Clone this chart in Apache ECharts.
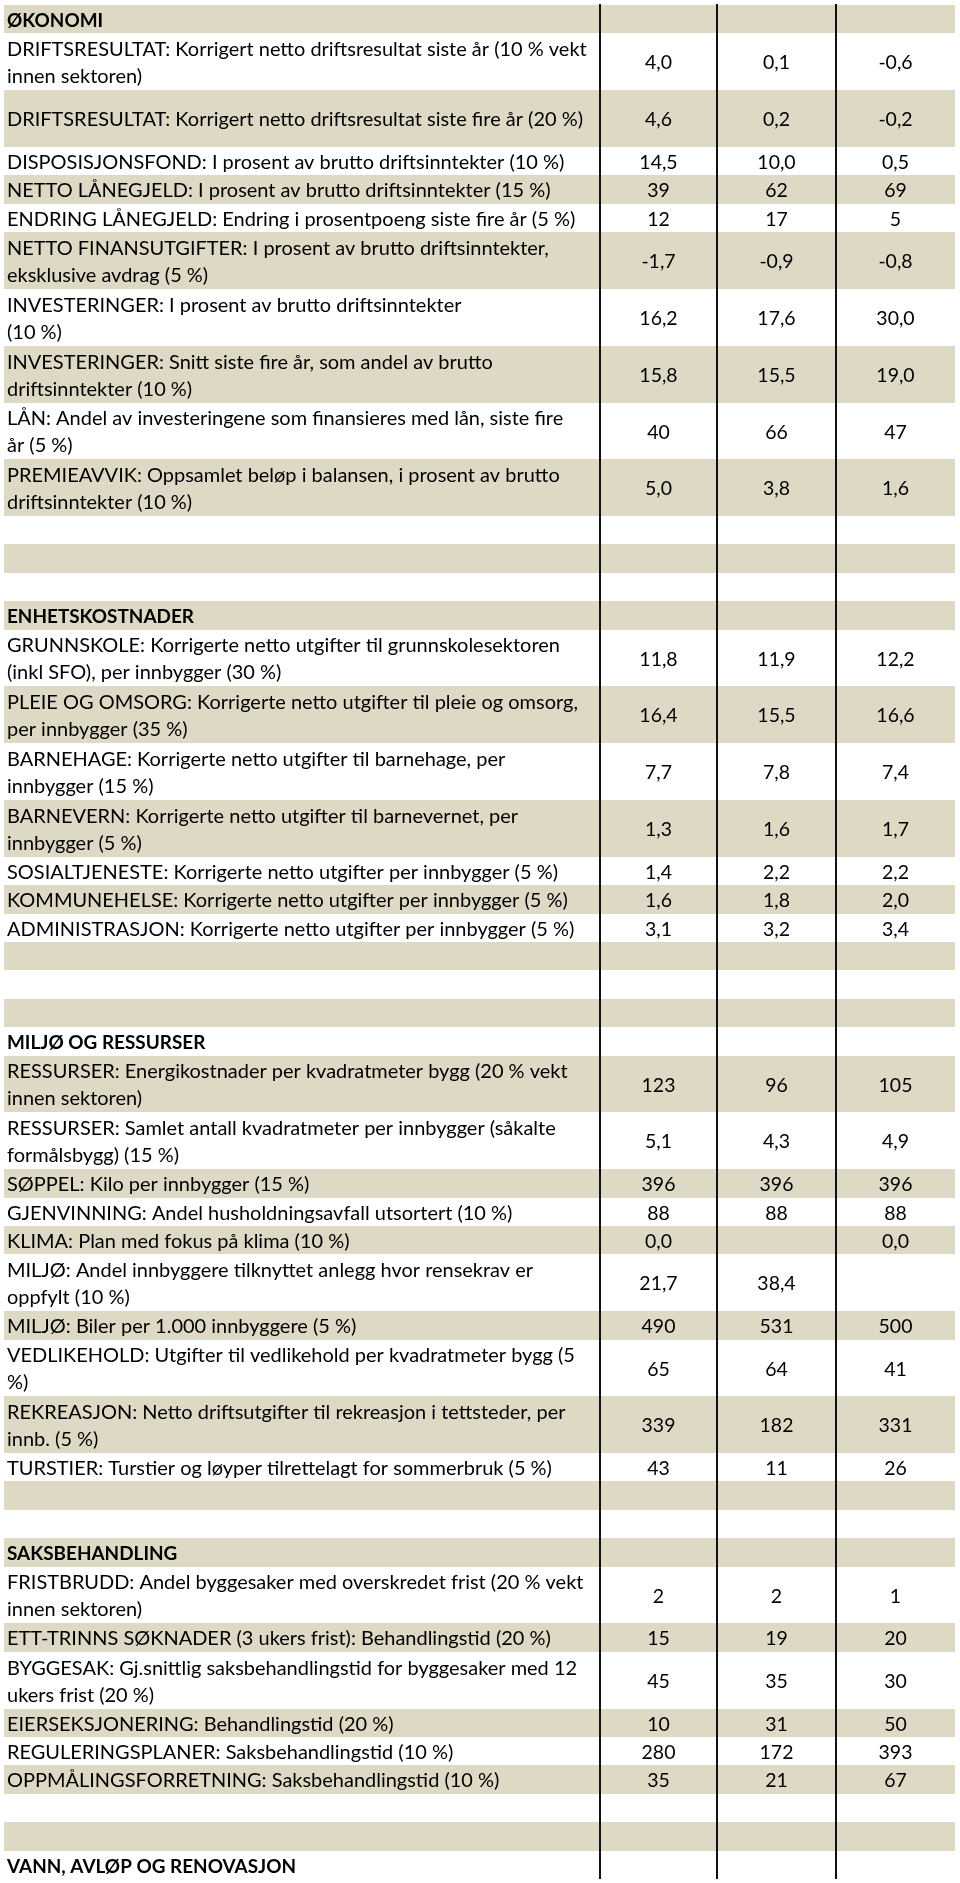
<!DOCTYPE html>
<html>
<head>
<meta charset="utf-8">
<script src="https://cdn.jsdelivr.net/npm/echarts@6/dist/echarts.min.js"></script>
<style>
html,body{margin:0;padding:0;background:#fff;}
#c{width:960px;height:1883px;}
</style>
</head>
<body>
<div id="c"></div>
<script>
// ---- DATA ----
const sectionTitles = ['ØKONOMI', 'ENHETSKOSTNADER', 'MILJØ OG RESSURSER', 'SAKSBEHANDLING', 'VANN, AVLØP OG RENOVASJON'];

const rowLabels = [
  'ØKONOMI',
  'DRIFTSRESULTAT: Korrigert netto driftsresultat siste år (10 % vekt\ninnen sektoren)',
  'DRIFTSRESULTAT: Korrigert netto driftsresultat siste fire år (20 %)',
  'DISPOSISJONSFOND: I prosent av brutto driftsinntekter (10 %)',
  'NETTO LÅNEGJELD: I prosent av brutto driftsinntekter (15 %)',
  'ENDRING LÅNEGJELD: Endring i prosentpoeng siste fire år (5 %)',
  'NETTO FINANSUTGIFTER: I prosent av brutto driftsinntekter,\neksklusive avdrag (5 %)',
  'INVESTERINGER: I prosent av brutto driftsinntekter\n(10 %)',
  'INVESTERINGER: Snitt siste fire år, som andel av brutto\ndriftsinntekter (10 %)',
  'LÅN: Andel av investeringene som finansieres med lån, siste fire\når (5 %)',
  'PREMIEAVVIK: Oppsamlet beløp i balansen, i prosent av brutto\ndriftsinntekter (10 %)',
  '', '', '',
  'ENHETSKOSTNADER',
  'GRUNNSKOLE: Korrigerte netto utgifter til grunnskolesektoren\n(inkl SFO), per innbygger (30 %)',
  'PLEIE OG OMSORG: Korrigerte netto utgifter til pleie og omsorg,\nper innbygger (35 %)',
  'BARNEHAGE: Korrigerte netto utgifter til barnehage, per\ninnbygger (15 %)',
  'BARNEVERN: Korrigerte netto utgifter til barnevernet, per\ninnbygger (5 %)',
  'SOSIALTJENESTE: Korrigerte netto utgifter per innbygger (5 %)',
  'KOMMUNEHELSE: Korrigerte netto utgifter per innbygger (5 %)',
  'ADMINISTRASJON: Korrigerte netto utgifter per innbygger (5 %)',
  '', '', '',
  'MILJØ OG RESSURSER',
  'RESSURSER: Energikostnader per kvadratmeter bygg (20 % vekt\ninnen sektoren)',
  'RESSURSER: Samlet antall kvadratmeter per innbygger (såkalte\nformålsbygg) (15 %)',
  'SØPPEL: Kilo per innbygger (15 %)',
  'GJENVINNING: Andel husholdningsavfall utsortert (10 %)',
  'KLIMA: Plan med fokus på klima (10 %)',
  'MILJØ: Andel innbyggere tilknyttet anlegg hvor rensekrav er\noppfylt (10 %)',
  'MILJØ: Biler per 1.000 innbyggere (5 %)',
  'VEDLIKEHOLD: Utgifter til vedlikehold per kvadratmeter bygg (5\n%)',
  'REKREASJON: Netto driftsutgifter til rekreasjon i tettsteder, per\ninnb. (5 %)',
  'TURSTIER: Turstier og løyper tilrettelagt for sommerbruk (5 %)',
  '', '',
  'SAKSBEHANDLING',
  'FRISTBRUDD: Andel byggesaker med overskredet frist (20 % vekt\ninnen sektoren)',
  'ETT-TRINNS SØKNADER (3 ukers frist): Behandlingstid (20 %)',
  'BYGGESAK: Gj.snittlig saksbehandlingstid for byggesaker med 12\nukers frist (20 %)',
  'EIERSEKSJONERING: Behandlingstid (20 %)',
  'REGULERINGSPLANER: Saksbehandlingstid (10 %)',
  'OPPMÅLINGSFORRETNING: Saksbehandlingstid (10 %)',
  '', '',
  'VANN, AVLØP OG RENOVASJON'
];

// number of text lines (row span) per row
const rowLines = [1,2,2,1,1,1,2,2,2,2,2,1,1,1, 1,2,2,2,2,1,1,1,1,1,1, 1,2,2,1,1,1,2,1,2,2,1,1,1, 1,2,1,2,1,1,1,1,1, 1];

const col1 = [null,4.0,4.6,14.5,39,12,-1.7,16.2,15.8,40,5.0,null,null,null,
  null,11.8,16.4,7.7,1.3,1.4,1.6,3.1,null,null,null,
  null,123,5.1,396,88,0.0,21.7,490,65,339,43,null,null,
  null,2,15,45,10,280,35,null,null,null];
const col2 = [null,0.1,0.2,10.0,62,17,-0.9,17.6,15.5,66,3.8,null,null,null,
  null,11.9,15.5,7.8,1.6,2.2,1.8,3.2,null,null,null,
  null,96,4.3,396,88,null,38.4,531,64,182,11,null,null,
  null,2,19,35,31,172,21,null,null,null];
const col3 = [null,-0.6,-0.2,0.5,69,5,-0.8,30.0,19.0,47,1.6,null,null,null,
  null,12.2,16.6,7.4,1.7,2.2,2.0,3.4,null,null,null,
  null,105,4.9,396,88,0.0,null,500,41,331,26,null,null,
  null,1,20,30,50,393,67,null,null,null];
// decimals shown per row
const decimals = [0,1,1,1,0,0,1,1,1,0,1,0,0,0,
  0,1,1,1,1,1,1,1,0,0,0,
  0,0,1,0,0,1,1,0,0,0,0,0,0,
  0,0,0,0,0,0,0,0,0,0];

// ---- LAYOUT ----
const valueCols = [col1, col2, col3];
const colEdges = [0, 596, 713, 832, 951];
const totalUnits = rowLines.reduce((a, b) => a + b, 0);
const tops = [];
rowLines.reduce((acc, n, i) => { tops[i] = acc; return acc + n; }, 0);

const FONT = 'Lato';
const FS = 19;
function measure(font, txt) {
  const ctx = document.createElement('canvas').getContext('2d');
  ctx.font = font;
  return ctx.measureText(txt).width;
}
const regScale = 576 / measure('normal ' + FS + 'px ' + FONT, 'DRIFTSRESULTAT: Korrigert netto driftsresultat siste fire år (20 %)');
const boldScale = 289 / measure('bold ' + FS + 'px ' + FONT, 'VANN, AVLØP OG RENOVASJON');
const numScale = 27 / measure('normal ' + FS + 'px ' + FONT, '4,0');

function fmt(v, d) {
  if (v === null || v === undefined) return '';
  return v.toFixed(d).replace('.', ',');
}

const chart = echarts.init(document.getElementById('c'), null, { renderer: 'canvas' });

const option = {
  backgroundColor: '#ffffff',
  animation: false,
  grid: { left: 4, top: 5, width: 951, height: 1874 },
  xAxis: { type: 'value', min: 0, max: 951, show: false },
  yAxis: { type: 'value', min: 0, max: totalUnits, inverse: true, show: false },
  series: [
    {
      type: 'custom',
      clip: false,
      silent: true,
      data: rowLabels.map((l, i) => [i, tops[i], rowLines[i]]),
      renderItem: function (params, api) {
        const i = api.value(0);
        const top = api.value(1);
        const n = api.value(2);
        const p0 = api.coord([0, top]);
        const p1 = api.coord([951, top + n]);
        const y0 = Math.round(p0[1]), y1 = Math.round(p1[1]);
        const children = [];
        if (i % 2 === 0) {
          children.push({
            type: 'rect',
            shape: { x: p0[0], y: y0, width: p1[0] - p0[0], height: y1 - y0 },
            style: { fill: '#DDD9C4' }
          });
        }
        const cy = (y0 + y1) / 2 + 1.5;
        const label = rowLabels[i];
        if (label) {
          const bold = sectionTitles.indexOf(label) >= 0;
          children.push({
            type: 'text',
            x: p0[0] + 3,
            y: cy,
            scaleX: bold ? boldScale : regScale,
            style: {
              text: label,
              x: 0, y: 0,
              fill: '#000',
              fontFamily: FONT,
              fontSize: FS,
              fontWeight: bold ? 'bold' : 'normal',
              lineHeight: 27,
              align: 'left',
              verticalAlign: 'middle'
            }
          });
        }
        for (let c = 0; c < 3; c++) {
          const v = valueCols[c][i];
          if (v === null || v === undefined) continue;
          const cx = api.coord([(colEdges[c + 1] + colEdges[c + 2]) / 2, top])[0];
          children.push({
            type: 'text',
            x: cx,
            y: cy,
            scaleX: numScale,
            style: {
              text: fmt(v, decimals[i]),
              x: 0, y: 0,
              fill: '#000',
              fontFamily: FONT,
              fontSize: FS,
              align: 'center',
              verticalAlign: 'middle'
            }
          });
        }
        return { type: 'group', children: children };
      }
    },
    {
      type: 'custom',
      clip: false,
      silent: true,
      z: 5,
      data: [colEdges[1], colEdges[2], colEdges[3]].map(x => [x]),
      renderItem: function (params, api) {
        const x = api.value(0);
        const a = api.coord([x, 0]);
        const b = api.coord([x, totalUnits]);
        return {
          type: 'line',
          shape: { x1: a[0], y1: a[1] - 1, x2: b[0], y2: b[1] },
          style: { stroke: '#111', lineWidth: 2 }
        };
      }
    }
  ]
};
chart.setOption(option);
</script>
</body>
</html>
